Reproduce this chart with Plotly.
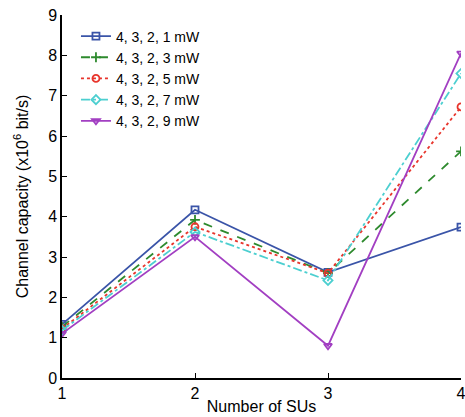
import plotly.graph_objects as go

x_su = [1, 2, 3, 4]
names = ["4, 3, 2, 1 mW", "4, 3, 2, 3 mW", "4, 3, 2, 5 mW", "4, 3, 2, 7 mW", "4, 3, 2, 9 mW"]
cap_1mw = [1.33, 4.17, 2.62, 3.74]
cap_3mw = [1.27, 3.92, 2.60, 5.62]
cap_5mw = [1.22, 3.75, 2.60, 6.72]
cap_7mw = [1.18, 3.62, 2.42, 7.55]
cap_9mw = [1.10, 3.50, 0.80, 8.05]

series = [cap_1mw, cap_3mw, cap_5mw, cap_7mw, cap_9mw]
colors = ["#3a54a8", "#2e8a2e", "#e8352c", "#4ccfd0", "#a23fc2"]
dashes = ["solid", "dash", "dot", "dashdot", "solid"]
symbols = ["square-open", "cross-thin-open", "circle-open", "diamond-open", "triangle-down-open"]

fig = go.Figure()
for n, s, c, d, m in zip(names, series, colors, dashes, symbols):
    fig.add_trace(go.Scatter(
        x=x_su, y=s, name=n, mode="lines+markers",
        line=dict(color=c, width=1.8, dash=d),
        marker=dict(symbol=m, size=7, color=c, line=dict(color=c, width=1.8)),
    ))

axis_common = dict(
    showline=True, linecolor="black", linewidth=1.5, mirror=False,
    ticks="inside", ticklen=5, tickcolor="black", tickwidth=1.2,
    showgrid=False, zeroline=False, ticklabeloverflow="allow", automargin=False,
    tickfont=dict(family="Liberation Sans, Arial", size=16, color="black"),
)

fig.update_layout(
    width=465, height=417,
    margin=dict(l=62, r=4, t=15, b=39),
    plot_bgcolor="white", paper_bgcolor="white",
    font=dict(family="Liberation Sans, Arial", size=16, color="black"),
    xaxis=dict(range=[1, 4], tickvals=[1, 2, 3, 4],
               title=dict(text="Number of SUs", standoff=0, font=dict(size=16)),
               **axis_common),
    yaxis=dict(range=[0, 9], tickvals=list(range(10)),
               title=dict(text="Channel capacity (x10<sup>6</sup> bit/s)", standoff=16, font=dict(size=16)),
               **axis_common),
    legend=dict(x=0.035, y=0.985, xanchor="left", yanchor="top",
                bgcolor="rgba(0,0,0,0)", font=dict(size=14),
                tracegroupgap=0, itemwidth=30),
    showlegend=True,
)

fig.write_html("out.html")
